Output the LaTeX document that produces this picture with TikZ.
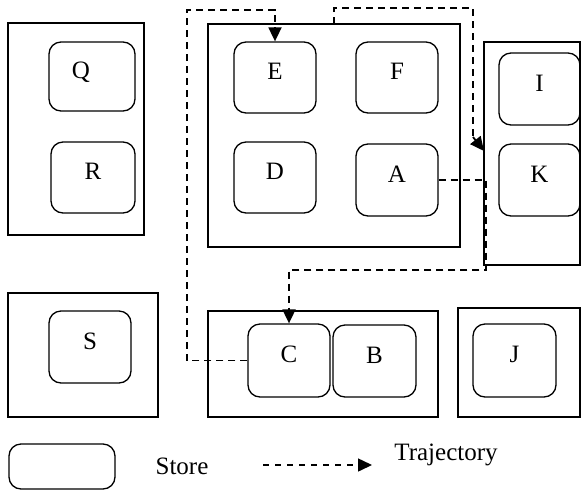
\documentclass[tikz,border=0pt]{standalone}
\usepackage{fontspec}
\setmainfont{Liberation Serif}
\usetikzlibrary{arrows.meta}
\begin{document}
\begin{tikzpicture}[x=1pt,y=-1pt,
  zone/.style={draw,line width=1.5pt,inner sep=0pt},
  store/.style={draw,line width=1.3pt,rounded corners=12pt,inner sep=0pt,
    minimum width=82pt,minimum height=72pt,text height=12pt,text depth=8pt,
    font=\fontsize{25}{30}\selectfont},
  traj/.style={line width=1.8pt,dash pattern=on 7pt off 5pt},
  ltraj/.style={line width=1.5pt,dash pattern=on 6pt off 6pt},
  tip/.style={-{Triangle[length=14pt,width=13pt]}},
  lbl/.style={font=\fontsize{25}{30}\selectfont,inner sep=0pt}]
\useasboundingbox (0,0) rectangle (581,491);
% zones
\draw[zone] (8,23) rectangle (144,235);
\draw[zone] (208,24) rectangle (460,247);
\draw[zone] (484,42) rectangle (580,265);
\draw[zone] (8,293) rectangle (158,417);
\draw[zone] (208,311) rectangle (438,417);
\draw[zone] (458,308) rectangle (580,417);
\coordinate (ztop) at (334,24);
\coordinate (zik) at (484,151);
% stores
\node[store,minimum width=86pt,minimum height=69pt] (Q) at (92,76.5) {Q\hspace*{22pt}};
\node[store,minimum width=84pt,minimum height=71pt] (R) at (93,177.5) {R};
\node[store,minimum height=71pt] (E) at (275,77.5) {E};
\node[store,minimum height=71pt] (F) at (397,77.5) {F};
\node[store,minimum height=71pt] (D) at (275,177.5) {D};
\node[store] (A) at (397,180) {A};
\node[store,minimum width=81pt] (I) at (539.5,89) {I};
\node[store,minimum width=81pt] (K) at (539.5,180) {K};
\node[store] (S) at (90,347) {S};
\node[store,minimum height=73pt] (C) at (289,360.5) {C};
\node[store,minimum width=83pt] (B) at (374.5,361) {B};
\node[store,minimum width=83pt,minimum height=73pt] (J) at (514.5,360.5) {J};
% trajectories
\draw[traj,tip] (C.west) -- (187,360.5) -- (187,10) -- (275,10) -- (E.north);
\draw[traj] (ztop) -- (334,8) -- (473,8) -- (473,137);
\draw[traj,tip] (473,137) -- (zik);
\draw[traj,tip] (A.east) -- (486,180) -- (486,270) -- (289,270) -- (C.north);
% legend
\node[store,minimum width=106pt,minimum height=45pt] (L) at (62,466.5) {};
\node[lbl] (Lt) at (182,466) {Store};
\coordinate (La) at (263,465);
\coordinate (Lb) at (372,465);
\draw[ltraj,tip] (La) -- (Lb);
\node[lbl] (Tt) at (446,455) {Trajectory};
\end{tikzpicture}
\end{document}
